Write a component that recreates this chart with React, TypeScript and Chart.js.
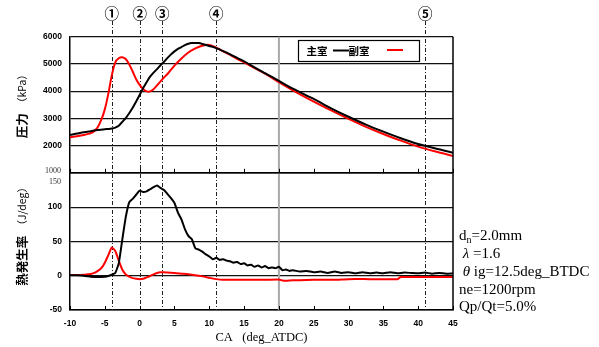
import React, { useEffect, useRef } from 'react';
import { Chart, registerables } from 'chart.js';

Chart.register(...registerables);

// ---------- data ----------
const X_TICKS = [-10, -5, 0, 5, 10, 15, 20, 25, 30, 35, 40, 45];
const P_TICKS = [1000, 2000, 3000, 4000, 5000, 6000];
const H_TICKS = [-50, 0, 50, 100, 150];

const SERIES_NAMES = ['主室', '副室'];

// pressure, main chamber (kPa)
const P_MAIN_CA = [-10, -9, -8, -7, -6, -5, -4.5, -4, -3.5, -3, -2.5, -2, -1.5, -1, -0.5, 0,
  0.5, 1, 1.5, 2, 2.5, 3, 3.5, 4, 4.5, 5, 5.5, 6, 6.5, 7, 7.5, 8, 8.5, 9,
  10, 11, 12, 13, 14, 15, 16, 17, 18, 19, 20, 22, 25, 27.5, 30, 32.5, 35, 37.5, 40, 42.5, 45];
const P_MAIN = [2390, 2440, 2490, 2530, 2570, 2600, 2610, 2625, 2660, 2730, 2870, 3010, 3190, 3390, 3620, 3860,
  4110, 4330, 4530, 4680, 4810, 4950, 5080, 5220, 5350, 5460, 5550, 5620, 5690, 5740, 5765, 5770, 5765, 5735,
  5660, 5580, 5470, 5350, 5220, 5090, 4950, 4800, 4660, 4520, 4375, 4090, 3713, 3370, 3060, 2770, 2511, 2270, 2058, 1890, 1739];

// pressure, pre-chamber (kPa)
const P_SUB_CA = [-10, -9, -8, -7, -6.5, -6, -5.5, -5, -4.5, -4, -3.5, -3, -2.5, -2, -1.5, -1, -0.5, 0,
  0.5, 1, 1.5, 2, 2.5, 3, 3.5, 4, 5, 6, 7, 8, 9, 10, 11, 12, 13, 14, 15, 16, 17, 18, 19, 20,
  22, 25, 27.5, 30, 32.5, 35, 37.5, 40, 42.5, 45];
const P_SUB = [2300, 2340, 2390, 2460, 2540, 2680, 2950, 3330, 3900, 4580, 5060, 5210, 5248, 5180, 4990, 4720, 4440, 4230,
  4080, 3990, 3990, 4070, 4210, 4360, 4500, 4630, 4940, 5200, 5420, 5570, 5670, 5700, 5600, 5460, 5330, 5190, 5060, 4920, 4780, 4640, 4490, 4330,
  4030, 3614, 3290, 2980, 2690, 2426, 2180, 1960, 1780, 1618];

// heat release rate, main chamber (J/deg)
const H_MAIN_CA = [-10, -9, -8, -7, -6, -5, -4.5, -4, -3.5, -3, -2.5, -2, -1.5, -1, -0.5, 0,
  0.5, 1, 1.5, 2, 2.5, 3, 3.5, 4, 4.5, 5, 5.5, 6, 6.5, 7, 7.5, 8, 8.5, 9, 9.5, 10,
  10.5, 11, 11.5, 12, 12.5, 13, 13.5, 14, 14.5, 15, 15.5, 16, 16.5, 17, 17.5, 18, 18.5, 19, 19.5, 20,
  20.5, 21, 21.5, 22, 23, 24, 25, 26, 27, 28, 29, 30, 31, 32, 33, 34, 35, 36, 37, 38, 39, 40, 41, 42, 43, 44, 45];
const H_MAIN = [0.5, 0.5, 0, -1.5, -2, -1.5, -0.5, 1.5, 4, 18, 52, 85, 107, 112, 118, 124,
  122, 123, 126, 129, 131.5, 128, 125, 119, 113, 106, 92, 82, 68, 58, 53, 40, 38, 35, 31, 28,
  24, 26, 23, 24, 22, 21, 19, 20, 17, 18, 15, 16, 13, 15, 12, 14, 11, 12, 11, 13,
  8, 9, 7, 8, 6, 7, 5, 6, 4, 6, 4, 5, 3.5, 5, 3.5, 4.5, 3.5, 5, 3.5, 4.5, 4, 3.5, 4.5, 3, 4, 3, 3.5];

// heat release rate, pre-chamber (J/deg)
const H_SUB_CA = [-10, -9, -8, -7.5, -7, -6.5, -6, -5.5, -5, -4.5, -4, -3.5, -3, -2.5, -2, -1.5, -1, -0.5, 0,
  0.5, 1, 1.5, 2, 2.5, 3, 3.5, 4, 5, 6, 7, 8, 9, 10, 11, 12, 14, 16, 18, 20, 20.5, 21, 22, 23, 25, 28, 30,
  33, 37, 37.5, 40, 42, 45];
const H_SUB = [1, 1, 1.5, 2, 2.5, 4, 7, 11, 19, 30, 41, 36, 22, 9, 2, -1.5, -3.5, -4.5, -5,
  -4.5, -2.5, -0.5, 2, 4, 5, 5, 4.5, 4, 3, 2, 0.5, -1, -3, -5, -6, -6, -6, -6, -5.5, -7, -7.5, -6.5, -6.5, -6, -6, -5,
  -5, -5, -2, -2, -2, -2];

const MARK_CA = [-4, 0, 3.25, 11, 41];
const MARK_LABELS = ['①', '②', '③', '④', '⑤'];

const NOTE_LINES: { t: string; sub?: boolean; greek?: boolean }[][] = [
  [{ t: 'd' }, { t: 'n', sub: true }, { t: '=2.0mm' }],
  [{ t: ' ' }, { t: 'λ', greek: true }, { t: ' =1.6' }],
  [{ t: ' ' }, { t: 'θ', greek: true }, { t: ' ig=12.5deg_BTDC' }],
  [{ t: 'ne=1200rpm' }],
  [{ t: 'Qp/Qt=5.0%' }],
];

const pts = (xs: number[], ys: number[]) => xs.map((x, i) => ({ x, y: ys[i] }));

const SANS = "'Liberation Sans', Arial, sans-serif";
const SERIF = "'Liberation Serif', 'Times New Roman', serif";
const CJK = "'Noto Sans CJK JP', sans-serif";

function drawVTitle(ctx: CanvasRenderingContext2D, cx: number, cy: number, parts: { t: string; font: string }[]) {
  ctx.save();
  ctx.translate(cx, cy);
  ctx.rotate(-Math.PI / 2);
  ctx.textBaseline = 'middle';
  ctx.textAlign = 'left';
  let total = 0;
  const widths = parts.map(p => { ctx.font = p.font; const w = ctx.measureText(p.t).width; total += w; return w; });
  let x = -total / 2;
  parts.forEach((p, i) => { ctx.font = p.font; ctx.fillStyle = '#000'; ctx.fillText(p.t, x, 0); x += widths[i]; });
  ctx.restore();
}

const overlay = {
  id: 'overlay',
  beforeDatasetsDraw(chart: any) {
    const { ctx, chartArea: a, scales } = chart;
    const x = scales.x;
    ctx.save();
    const gx = x.getPixelForValue(20);
    ctx.strokeStyle = '#a8a8a8';
    ctx.lineWidth = 2;
    ctx.beginPath(); ctx.moveTo(gx, a.top); ctx.lineTo(gx, a.bottom); ctx.stroke();
    ctx.strokeStyle = '#222';
    ctx.lineWidth = 1;
    ctx.setLineDash([4, 2, 1, 2]);
    MARK_CA.forEach(v => {
      const px = Math.round(x.getPixelForValue(v)) + 0.5;
      ctx.beginPath(); ctx.moveTo(px, 21); ctx.lineTo(px, a.bottom); ctx.stroke();
    });
    ctx.restore();
  },
  afterDatasetsDraw(chart: any) {
    const { ctx, chartArea: a, scales } = chart;
    const x = scales.x;
    const mid = scales.yP.getPixelForValue(1000);
    ctx.save();
    ctx.strokeStyle = '#000';
    ctx.lineWidth = 1.5;
    ctx.beginPath(); ctx.moveTo(a.right, a.top); ctx.lineTo(a.right, a.bottom); ctx.stroke();
    ctx.beginPath(); ctx.moveTo(a.left, mid); ctx.lineTo(a.right, mid); ctx.stroke();
    ctx.lineWidth = 1;
    X_TICKS.forEach(v => {
      const px = Math.round(x.getPixelForValue(v)) + 0.5;
      [mid, a.bottom].forEach(yy => { ctx.beginPath(); ctx.moveTo(px, yy); ctx.lineTo(px, yy - 4); ctx.stroke(); });
    });
    ctx.restore();
  },
  afterDraw(chart: any) {
    const { ctx, scales } = chart;
    const x = scales.x;
    ctx.save();
    // circled markers
    ctx.font = `bold 14.5px ${CJK}`;
    ctx.fillStyle = '#000';
    ctx.textAlign = 'center';
    ctx.textBaseline = 'middle';
    MARK_CA.forEach((v, i) => ctx.fillText(MARK_LABELS[i], x.getPixelForValue(v), 13.5));

    // small boundary labels
    ctx.font = `8px ${SERIF}`;
    ctx.fillStyle = '#333';
    ctx.textAlign = 'right';
    ctx.fillText(String(P_TICKS[0]), 61, scales.yP.getPixelForValue(P_TICKS[0]) - 2);
    ctx.fillText(String(H_TICKS[H_TICKS.length - 1]), 61, scales.yH.getPixelForValue(H_TICKS[H_TICKS.length - 1]) + 9);

    // legend
    ctx.fillStyle = '#fff';
    ctx.fillRect(298.5, 40.5, 121, 21);
    ctx.strokeStyle = '#000';
    ctx.lineWidth = 1.2;
    ctx.strokeRect(298.5, 40.5, 121, 21);
    ctx.font = `bold 10.5px ${CJK}`;
    ctx.fillStyle = '#000';
    ctx.textAlign = 'left';
    ctx.fillText(SERIES_NAMES[0], 306.5, 51.5);
    ctx.fillText(SERIES_NAMES[1], 348.5, 51.5);
    ctx.lineWidth = 2;
    ctx.strokeStyle = '#000';
    ctx.beginPath(); ctx.moveTo(333, 50.5); ctx.lineTo(349, 50.5); ctx.stroke();
    ctx.strokeStyle = '#ff0000';
    ctx.beginPath(); ctx.moveTo(387, 50); ctx.lineTo(403, 50); ctx.stroke();

    // notes
    const ys = [236.5, 254, 271.7, 289.7, 307.5];
    ctx.fillStyle = '#000';
    ctx.textBaseline = 'middle';
    NOTE_LINES.forEach((parts, i) => {
      let px = 459;
      parts.forEach(p => {
        if (p.sub) {
          ctx.font = `10px ${SERIF}`;
          ctx.fillText(p.t, px, ys[i] + 4);
        } else {
          ctx.font = p.greek ? `italic 15px ${SERIF}` : `15px ${SERIF}`;
          ctx.fillText(p.t, px, ys[i]);
        }
        px += ctx.measureText(p.t).width;
      });
    });

    // y titles
    const a = chart.chartArea;
    const topMid = (a.top + scales.yP.getPixelForValue(1000)) / 2 - 1;
    const botMid = (scales.yH.getPixelForValue(150) + a.bottom) / 2 - 7.5;
    drawVTitle(ctx, 22, topMid, [
      { t: '圧力', font: `bold 12.5px ${CJK}` },
      { t: '　（kPa）', font: `10.5px ${CJK}` },
    ]);
    drawVTitle(ctx, 22, botMid, [
      { t: '熱発生率', font: `bold 12.5px ${CJK}` },
      { t: '　（J/deg）', font: `10.5px ${CJK}` },
    ]);
    ctx.restore();
  },
};

export default function App() {
  const ref = useRef<HTMLCanvasElement>(null);
  useEffect(() => {
    document.body.style.margin = '0';
    const tickFont = { family: SANS, size: 8.5, weight: 'bold' as const };
    const chart = new Chart(ref.current!, {
      type: 'line',
      data: {
        datasets: [
          { label: SERIES_NAMES[0], data: pts(P_MAIN_CA, P_MAIN), yAxisID: 'yP', borderColor: '#000', borderWidth: 2, pointRadius: 0, tension: 0.25 },
          { label: SERIES_NAMES[1], data: pts(P_SUB_CA, P_SUB), yAxisID: 'yP', borderColor: '#ff0000', borderWidth: 2, pointRadius: 0, tension: 0.25 },
          { label: SERIES_NAMES[0], data: pts(H_MAIN_CA, H_MAIN), yAxisID: 'yH', borderColor: '#000', borderWidth: 2, pointRadius: 0, tension: 0.15 },
          { label: SERIES_NAMES[1], data: pts(H_SUB_CA, H_SUB), yAxisID: 'yH', borderColor: '#ff0000', borderWidth: 2, pointRadius: 0, tension: 0.2 },
        ],
      },
      options: {
        animation: false,
        responsive: false,
        devicePixelRatio: 1,
        parsing: false as any,
        layout: { padding: { left: 0, top: 36.7, right: 146, bottom: 0 } },
        plugins: { legend: { display: false }, tooltip: { enabled: false } },
        scales: {
          x: {
            type: 'linear',
            min: -10,
            max: 45,
            afterBuildTicks: (s: any) => { s.ticks = X_TICKS.map(v => ({ value: v })); },
            afterFit: (s: any) => { s.height = 37; },
            grid: { drawOnChartArea: false, drawTicks: false },
            border: { display: true, color: '#000', width: 1.5 },
            ticks: { font: tickFont, color: '#000', padding: 9, maxRotation: 0, autoSkip: false },
            title: { display: true, text: 'CA   (deg_ATDC)', font: { family: SERIF, size: 12.5 }, color: '#000', padding: { top: 0, bottom: 1.5 } },
          },
          yH: {
            type: 'linear',
            position: 'left',
            stack: 'main',
            stackWeight: 137.2,
            min: -50,
            max: 150,
            afterBuildTicks: (s: any) => { s.ticks = H_TICKS.map(v => ({ value: v })); },
            afterFit: (s: any) => { s.width = 70; },
            grid: { color: '#111', lineWidth: 1.2, drawTicks: false },
            border: { display: true, color: '#000', width: 1.5 },
            ticks: { font: tickFont, color: '#000', padding: 8, callback: (v: any) => (v === H_TICKS[H_TICKS.length - 1] ? '' : String(v)) },
          },
          yP: {
            type: 'linear',
            position: 'left',
            stack: 'main',
            stackWeight: 136.1,
            min: 1000,
            max: 6000,
            afterBuildTicks: (s: any) => { s.ticks = P_TICKS.map(v => ({ value: v })); },
            afterFit: (s: any) => { s.width = 70; },
            grid: { color: '#111', lineWidth: 1.2, drawTicks: false },
            border: { display: true, color: '#000', width: 1.5 },
            ticks: { font: tickFont, color: '#000', padding: 8, callback: (v: any) => (v === P_TICKS[0] ? '' : String(v)) },
          },
        },
      } as any,
      plugins: [overlay],
    });
    return () => chart.destroy();
  }, []);
  return (
    <div style={{ width: 599, height: 347, position: 'relative' }}>
      <canvas ref={ref} width={599} height={347} style={{ display: 'block', width: '599px', height: '347px' }} />
    </div>
  );
}
